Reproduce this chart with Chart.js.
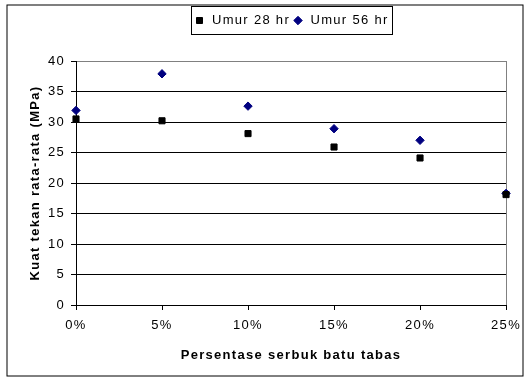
<!DOCTYPE html>
<html>
<head>
<meta charset="utf-8">
<script src="https://cdn.jsdelivr.net/npm/chart.js@4.4.1/dist/chart.umd.min.js"></script>
<style>
  html, body { margin: 0; padding: 0; background: #fff; }
</style>
</head>
<body>
<canvas id="myChart" width="529" height="378"></canvas>
<script>
// data
let percents = [0, 5, 10, 15, 20, 25];
let xTickLabels = ['0%', '5%', '10%', '15%', '20%', '25%'];
let umur28 = [30.5, 30.2, 28.1, 25.9, 24.1, 18.1];
let umur56 = [31.9, 37.9, 32.6, 28.9, 27.0, 18.3];
let seriesNames = ['Umur 28 hr', 'Umur 56 hr'];

let fontFam = "'Liberation Sans', Arial, sans-serif";
let spacing = '1.3px';

Chart.defaults.color = '#000';
Chart.defaults.font.family = fontFam;
Chart.defaults.font.size = 13;

let toPoints = function(vals)
{
    return vals.map(function(v, i) { return {x: percents[i], y: v}; });
};

// outer frame, legend box and the stretched look of the text
let framePlugin =
{
    id: 'frame',
    beforeLayout: function(chart) { chart.ctx.letterSpacing = spacing; },
    beforeDraw: function(chart) { chart.ctx.letterSpacing = spacing; },
    afterDraw: function(chart)
    {
        let c = chart.ctx;
        c.save();
        c.strokeStyle = '#000';
        c.lineWidth = 1;
        c.strokeRect(7, 5, 516, 371);

        let hb = chart.legend.legendHitBoxes;
        if (hb && hb.length)
        {
            let first = hb[0], last = hb[hb.length - 1];
            let l = Math.round(first.left - 3) + 0.5;
            let r = Math.round(last.left + last.width + 3) + 0.5;
            let t = Math.round(first.top - 8) + 0.5;
            let b = Math.round(first.top + first.height + 7) + 0.5;
            c.strokeRect(l, t, r - l, b - t);
        }
        c.restore();
    }
};

let ctx = document.getElementById('myChart').getContext('2d');

let myChart = new Chart(ctx,
{
    type: 'scatter',
    data:
    {
        datasets:
        [{
            label: seriesNames[0],
            data: toPoints(umur28),
            pointStyle: 'rect',
            pointRadius: 4.3,
            backgroundColor: '#000',
            borderColor: '#000',
            borderWidth: 1,
            clip: false
        },
        {
            label: seriesNames[1],
            data: toPoints(umur56),
            pointStyle: 'rectRot',
            pointRadius: 4.2,
            backgroundColor: '#000080',
            borderColor: '#000080',
            borderWidth: 1,
            clip: false
        }]
    },
    options:
    {
        responsive: false,
        animation: false,
        devicePixelRatio: 1,
        layout: { padding: { left: 8, right: 22, top: 12, bottom: 4 } },
        plugins:
        {
            tooltip: { enabled: false },
            legend:
            {
                position: 'top',
                fullSize: false,
                labels:
                {
                    usePointStyle: true,
                    boxWidth: 12,
                    boxHeight: 6,
                    padding: 2,
                    font: { size: 13 }
                }
            }
        },
        scales:
        {
            x:
            {
                type: 'linear',
                position: 'bottom',
                min: 0,
                max: 25,
                ticks:
                {
                    stepSize: 5,
                    padding: 8,
                    callback: function(v, i) { return xTickLabels[i]; }
                },
                grid:
                {
                    color: function(c) { return c.index === 5 ? '#808080' : 'rgba(0,0,0,0)'; },
                    tickColor: '#000',
                    tickLength: 5
                },
                border: { color: '#000' },
                title:
                {
                    display: true,
                    text: 'Persentase serbuk batu tabas',
                    font: { size: 13, weight: 'bold' },
                    padding: { top: 0, bottom: 11 }
                },
                afterFit: function(scale) { scale.height = 69; }
            },
            x2:
            {
                type: 'linear',
                axis: 'x',
                position: 'top',
                min: 0,
                max: 25,
                ticks: { display: false },
                grid: { display: false, drawTicks: false },
                border: { color: '#808080' },
                afterFit: function(scale) { scale.height = 24; }
            },
            y:
            {
                min: 0,
                max: 40,
                ticks: { stepSize: 5, padding: 6 },
                grid:
                {
                    color: function(c) { return c.tick && c.tick.value === 40 ? '#808080' : '#000'; },
                    tickColor: '#000',
                    tickLength: 5
                },
                border: { color: '#000' },
                title:
                {
                    display: true,
                    text: 'Kuat tekan rata-rata (MPa)',
                    font: { size: 13, weight: 'bold' },
                    padding: { top: 20, bottom: 0 }
                },
                afterFit: function(scale) { scale.width = 68; }
            }
        }
    },
    plugins: [framePlugin]
});
</script>
</body>
</html>
